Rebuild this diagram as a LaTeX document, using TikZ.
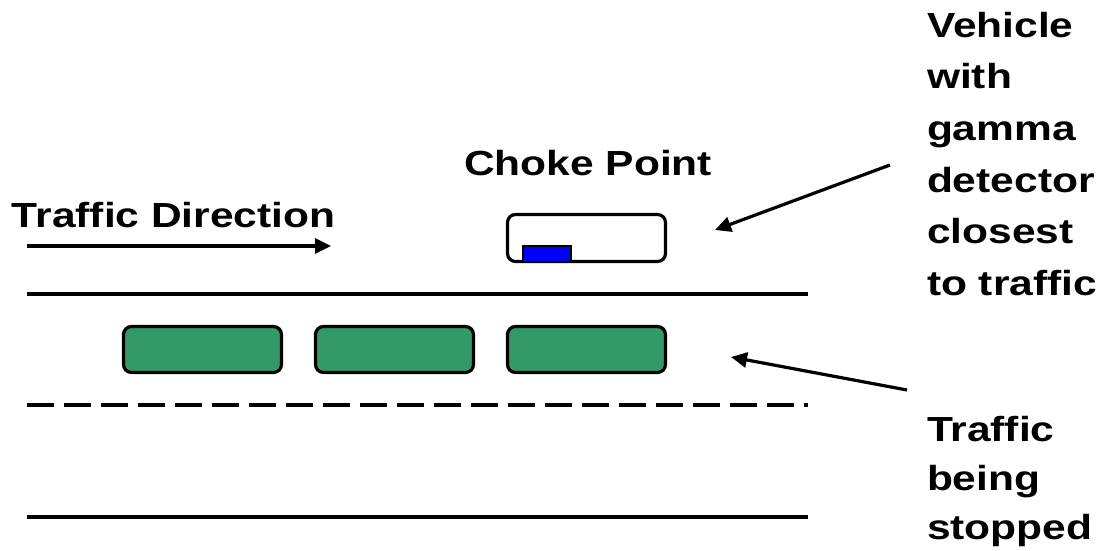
\documentclass[tikz,border=0pt]{standalone}
\usepackage{fontspec}
\setmainfont{Liberation Sans}
\usetikzlibrary{arrows.meta}
\definecolor{carGreen}{RGB}{51,153,102}
\newcommand{\lbltext}[2]{\scalebox{1}[0.82]{\fontsize{42.5}{#1}\selectfont\bfseries #2}}
\tikzset{
  road/.style={line width=3.2pt},
  roaddash/.style={line width=3.2pt, dash pattern=on 27pt off 10pt},
  car/.style={draw=black, line width=3.2pt, rounded corners=8pt, fill=carGreen, minimum width=158pt, minimum height=46pt, inner sep=0pt},
  chokebox/.style={draw=black, line width=3.2pt, rounded corners=8pt, fill=white, minimum width=158pt, minimum height=47pt, inner sep=0pt},
  detector/.style={draw=black, line width=2pt, fill=blue, minimum width=48pt, minimum height=16pt, inner sep=0pt},
  pointer/.style={line width=3.2pt, -{Triangle[length=16pt,width=15pt]}},
  lbl/.style={inner sep=0pt, outer sep=0pt}
}
\begin{document}
\begin{tikzpicture}[x=1pt,y=-1pt]
\useasboundingbox (0,0) rectangle (1112,551);
% road lines
\coordinate (r1a) at (27,294); \coordinate (r1b) at (808,294);
\coordinate (r2a) at (27,405); \coordinate (r2b) at (808,405);
\coordinate (r3a) at (27,517); \coordinate (r3b) at (808,517);
\draw[road] (r1a) -- (r1b);
\draw[roaddash] (r2a) -- (r2b);
\draw[road] (r3a) -- (r3b);
% cars
\node[car] (car1) at (202.5,349.5) {};
\node[car] (car2) at (394.5,349.5) {};
\node[car] (car3) at (586.5,349.5) {};
% choke point vehicle
\node[chokebox] (choke) at (586.5,238) {};
\node[detector] (det) at (547,254) {};
% labels
\node[lbl, anchor=base west] (tdir) at (12,227) {\lbltext{50}{Traffic Direction}};
\node[lbl, anchor=base] (cp) at (588,175) {\lbltext{50}{Choke Point}};
\node[lbl, anchor=north west] (veh) at (927,1) {\lbltext{63}{\begin{tabular}{@{}l@{}}Vehicle\\with\\gamma\\detector\\closest\\to traffic\end{tabular}}};
\node[lbl, anchor=north west] (stop) at (927,407) {\lbltext{60}{\begin{tabular}{@{}l@{}}Traffic\\being\\stopped\end{tabular}}};
% arrows
\coordinate (da) at (27,246); \coordinate (db) at (331,246);
\draw[pointer] (da) -- (db);
\coordinate (va) at (890,165); \coordinate (vb) at (715,230);
\draw[pointer] (va) -- (vb);
\coordinate (sa) at (907,390); \coordinate (sb) at (731,357);
\draw[pointer] (sa) -- (sb);
\end{tikzpicture}
\end{document}
